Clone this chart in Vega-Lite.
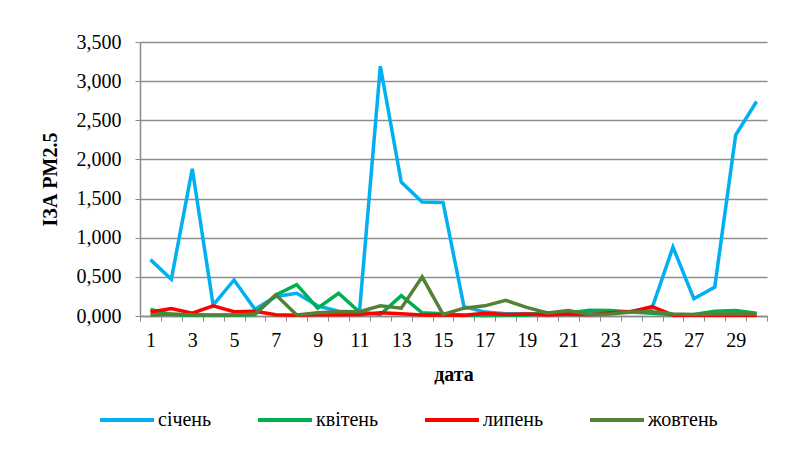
{
  "$schema": "https://vega.github.io/schema/vega-lite/v6.json",
  "width": 627,
  "height": 274,
  "autosize": {"type": "none"},
  "padding": {"left": 140, "top": 42, "right": 18, "bottom": 150},
  "background": "white",
  "config": {
    "font": "Liberation Serif",
    "view": {"stroke": null},
    "axis": {"labelFont": "Liberation Serif", "titleFont": "Liberation Serif"},
    "legend": {"labelFont": "Liberation Serif"}
  },
  "datasets": {
    "pm": [
      {"day": 1, "m": "січень", "v": 0.72}, {"day": 2, "m": "січень", "v": 0.47}, {"day": 3, "m": "січень", "v": 1.88}, {"day": 4, "m": "січень", "v": 0.14}, {"day": 5, "m": "січень", "v": 0.46},
      {"day": 6, "m": "січень", "v": 0.085}, {"day": 7, "m": "січень", "v": 0.25}, {"day": 8, "m": "січень", "v": 0.29}, {"day": 9, "m": "січень", "v": 0.13}, {"day": 10, "m": "січень", "v": 0.06},
      {"day": 11, "m": "січень", "v": 0.05}, {"day": 12, "m": "січень", "v": 3.19}, {"day": 13, "m": "січень", "v": 1.71}, {"day": 14, "m": "січень", "v": 1.455}, {"day": 15, "m": "січень", "v": 1.45},
      {"day": 16, "m": "січень", "v": 0.12}, {"day": 17, "m": "січень", "v": 0.05}, {"day": 18, "m": "січень", "v": 0.03}, {"day": 19, "m": "січень", "v": 0.03}, {"day": 20, "m": "січень", "v": 0.03},
      {"day": 21, "m": "січень", "v": 0.04}, {"day": 22, "m": "січень", "v": 0.04}, {"day": 23, "m": "січень", "v": 0.04}, {"day": 24, "m": "січень", "v": 0.06}, {"day": 25, "m": "січень", "v": 0.1},
      {"day": 26, "m": "січень", "v": 0.88}, {"day": 27, "m": "січень", "v": 0.22}, {"day": 28, "m": "січень", "v": 0.37}, {"day": 29, "m": "січень", "v": 2.31}, {"day": 30, "m": "січень", "v": 2.74},

      {"day": 1, "m": "квітень", "v": 0.085}, {"day": 2, "m": "квітень", "v": 0.02}, {"day": 3, "m": "квітень", "v": 0.01}, {"day": 4, "m": "квітень", "v": 0.008}, {"day": 5, "m": "квітень", "v": 0.01},
      {"day": 6, "m": "квітень", "v": 0.02}, {"day": 7, "m": "квітень", "v": 0.27}, {"day": 8, "m": "квітень", "v": 0.4}, {"day": 9, "m": "квітень", "v": 0.1}, {"day": 10, "m": "квітень", "v": 0.29},
      {"day": 11, "m": "квітень", "v": 0.05}, {"day": 12, "m": "квітень", "v": 0.02}, {"day": 13, "m": "квітень", "v": 0.26}, {"day": 14, "m": "квітень", "v": 0.04}, {"day": 15, "m": "квітень", "v": 0.03},
      {"day": 16, "m": "квітень", "v": 0.01}, {"day": 17, "m": "квітень", "v": 0.005}, {"day": 18, "m": "квітень", "v": 0.01}, {"day": 19, "m": "квітень", "v": 0.01}, {"day": 20, "m": "квітень", "v": 0.04},
      {"day": 21, "m": "квітень", "v": 0.04}, {"day": 22, "m": "квітень", "v": 0.075}, {"day": 23, "m": "квітень", "v": 0.07}, {"day": 24, "m": "квітень", "v": 0.05}, {"day": 25, "m": "квітень", "v": 0.035},
      {"day": 26, "m": "квітень", "v": 0.015}, {"day": 27, "m": "квітень", "v": 0.02}, {"day": 28, "m": "квітень", "v": 0.06}, {"day": 29, "m": "квітень", "v": 0.07}, {"day": 30, "m": "квітень", "v": 0.035},

      {"day": 1, "m": "липень", "v": 0.05}, {"day": 2, "m": "липень", "v": 0.094}, {"day": 3, "m": "липень", "v": 0.035}, {"day": 4, "m": "липень", "v": 0.13}, {"day": 5, "m": "липень", "v": 0.055},
      {"day": 6, "m": "липень", "v": 0.06}, {"day": 7, "m": "липень", "v": 0.017}, {"day": 8, "m": "липень", "v": 0.01}, {"day": 9, "m": "липень", "v": 0.017}, {"day": 10, "m": "липень", "v": 0.017},
      {"day": 11, "m": "липень", "v": 0.02}, {"day": 12, "m": "липень", "v": 0.04}, {"day": 13, "m": "липень", "v": 0.03}, {"day": 14, "m": "липень", "v": 0.013}, {"day": 15, "m": "липень", "v": 0.013},
      {"day": 16, "m": "липень", "v": 0.01}, {"day": 17, "m": "липень", "v": 0.035}, {"day": 18, "m": "липень", "v": 0.02}, {"day": 19, "m": "липень", "v": 0.025}, {"day": 20, "m": "липень", "v": 0.013},
      {"day": 21, "m": "липень", "v": 0.025}, {"day": 22, "m": "липень", "v": 0.017}, {"day": 23, "m": "липень", "v": 0.04}, {"day": 24, "m": "липень", "v": 0.055}, {"day": 25, "m": "липень", "v": 0.12},
      {"day": 26, "m": "липень", "v": 0.01}, {"day": 27, "m": "липень", "v": 0.01}, {"day": 28, "m": "липень", "v": 0.01}, {"day": 29, "m": "липень", "v": 0.01}, {"day": 30, "m": "липень", "v": 0.01},

      {"day": 1, "m": "жовтень", "v": 0.013}, {"day": 2, "m": "жовтень", "v": 0.025}, {"day": 3, "m": "жовтень", "v": 0.017}, {"day": 4, "m": "жовтень", "v": 0.013}, {"day": 5, "m": "жовтень", "v": 0.013},
      {"day": 6, "m": "жовтень", "v": 0.025}, {"day": 7, "m": "жовтень", "v": 0.27}, {"day": 8, "m": "жовтень", "v": 0.013}, {"day": 9, "m": "жовтень", "v": 0.04}, {"day": 10, "m": "жовтень", "v": 0.055},
      {"day": 11, "m": "жовтень", "v": 0.055}, {"day": 12, "m": "жовтень", "v": 0.13}, {"day": 13, "m": "жовтень", "v": 0.1}, {"day": 14, "m": "жовтень", "v": 0.5}, {"day": 15, "m": "жовтень", "v": 0.02},
      {"day": 16, "m": "жовтень", "v": 0.1}, {"day": 17, "m": "жовтень", "v": 0.13}, {"day": 18, "m": "жовтень", "v": 0.2}, {"day": 19, "m": "жовтень", "v": 0.11}, {"day": 20, "m": "жовтень", "v": 0.04},
      {"day": 21, "m": "жовтень", "v": 0.07}, {"day": 22, "m": "жовтень", "v": 0.02}, {"day": 23, "m": "жовтень", "v": 0.025}, {"day": 24, "m": "жовтень", "v": 0.05}, {"day": 25, "m": "жовтень", "v": 0.055},
      {"day": 26, "m": "жовтень", "v": 0.025}, {"day": 27, "m": "жовтень", "v": 0.02}, {"day": 28, "m": "жовтень", "v": 0.025}, {"day": 29, "m": "жовтень", "v": 0.03}, {"day": 30, "m": "жовтень", "v": 0.025}
    ]
  },
  "data": {"name": "pm"},
  "mark": {"type": "line", "strokeWidth": 3.5, "strokeJoin": "miter", "strokeCap": "butt"},
  "encoding": {
    "x": {
      "field": "day",
      "type": "ordinal",
      "sort": "ascending",
      "scale": {"type": "band", "paddingInner": 0, "paddingOuter": 0},
      "axis": {
        "title": "дата",
        "titleFont": "Liberation Serif",
        "titleFontSize": 20,
        "titleFontWeight": "bold",
        "titleColor": "black",
        "titlePadding": 14,
        "labelAngle": 0,
        "labelFont": "Liberation Serif",
        "labelFontSize": 20,
        "labelColor": "black",
        "labelPadding": 9,
        "labelOverlap": false,
        "labelExpr": "datum.value % 2 == 1 ? datum.label : ''",
        "tickBand": "extent",
        "tickSize": 5,
        "tickColor": "#8a8a8a",
        "domainColor": "#8a8a8a",
        "domainWidth": 1.5,
        "grid": false
      }
    },
    "y": {
      "field": "v",
      "type": "quantitative",
      "scale": {"domain": [0, 3.5], "nice": false},
      "axis": {
        "title": "ІЗА PM2.5",
        "titleFont": "Liberation Serif",
        "titleFontSize": 20,
        "titleFontWeight": "bold",
        "titleColor": "black",
        "titlePadding": 16,
        "values": [0, 0.5, 1, 1.5, 2, 2.5, 3, 3.5],
        "labelExpr": "replace(format(datum.value, '.3f'), '.', ',')",
        "labelFont": "Liberation Serif",
        "labelFontSize": 20,
        "labelColor": "black",
        "labelPadding": 14,
        "tickSize": 5,
        "tickColor": "#8a8a8a",
        "domainColor": "#8a8a8a",
        "domainWidth": 1.5,
        "grid": true,
        "gridColor": "#8e8e8e",
        "gridWidth": 1.5
      }
    },
    "color": {
      "field": "m",
      "type": "nominal",
      "sort": null,
      "scale": {
        "domain": ["січень", "квітень", "липень", "жовтень"],
        "range": ["#00B0F0", "#00B050", "#FF0000", "#548235"]
      },
      "legend": {
        "title": null,
        "orient": "none",
        "legendX": -42,
        "legendY": 349,
        "direction": "horizontal",
        "symbolType": "stroke",
        "symbolSize": 2916,
        "symbolStrokeWidth": 4,
        "labelFont": "Liberation Serif",
        "labelFontSize": 20,
        "labelColor": "black",
        "labelOffset": 2,
        "columnPadding": 38
      }
    }
  }
}
